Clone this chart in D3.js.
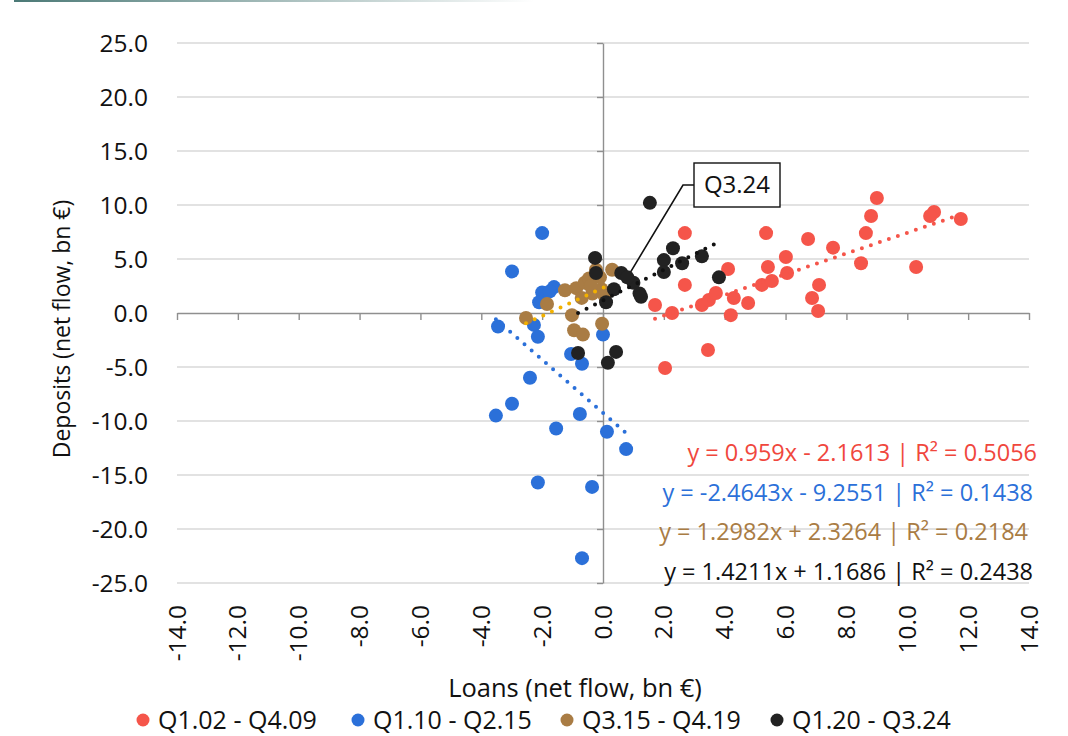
<!DOCTYPE html>
<html>
<head>
<meta charset="utf-8">
<script src="https://cdn.jsdelivr.net/npm/d3@7"></script>
<style>
  body { margin: 0; background: #fff; }
  svg { display: block; font-family: "Open Sans", sans-serif; }
</style>
</head>
<body>
<svg id="chart" width="1068" height="736"></svg>
<script>
// net flows, bn € : [loans, deposits]
const seriesNames = ['Q1.02 - Q4.09', 'Q1.10 - Q2.15', 'Q3.15 - Q4.19', 'Q1.20 - Q3.24'];
const seriesColors = ['#f5554a', '#2b70d9', '#a97c44', '#222222'];
const trendColors = ['#f5554a', '#2b70d9', '#f2b100', '#111111'];

const red = [
  [1.71, 0.74], [2.04, -5.09], [2.27, 0.0], [2.69, 7.4], [2.69, 2.6], [3.25, 0.74],
  [3.48, 1.2], [3.71, 1.85], [4.11, 4.07], [4.2, -0.2], [4.3, 1.39], [4.77, 0.93],
  [3.45, -3.43], [5.36, 7.4], [5.42, 4.26], [5.22, 2.6], [5.55, 2.96], [6.05, 3.7],
  [6.01, 5.19], [6.74, 6.85], [6.87, 1.39], [7.1, 2.6], [7.07, 0.19], [7.56, 6.05],
  [9.0, 10.65], [8.81, 8.98], [8.64, 7.4], [8.48, 4.6], [10.29, 4.26], [10.88, 9.35],
  [10.75, 8.98], [11.76, 8.7]
];
const blue = [
  [-2.0, 7.4], [-2.99, 3.85], [-1.61, 2.4], [-2.0, 1.9], [-2.1, 1.0], [-1.75, 2.0],
  [-3.45, -1.25], [-2.27, -1.1], [-2.14, -2.2], [0.0, -2.0], [-1.05, -3.8], [-0.69, -4.7],
  [-2.4, -6.0], [-2.99, -8.4], [-3.52, -9.5], [-0.76, -9.35], [-1.54, -10.7], [0.13, -11.0],
  [0.76, -12.6], [-2.14, -15.7], [-0.36, -16.1], [-0.69, -22.7]
];
const brown = [
  [-2.53, -0.46], [-1.84, 0.83], [-1.25, 2.1], [-0.88, 2.3], [-0.6, 2.8], [-0.46, 3.2],
  [-0.23, 4.0], [0.3, 4.0], [-0.05, 2.2], [-0.35, 1.8], [-1.02, -0.2], [-0.95, -1.6],
  [-0.66, -2.0], [-0.03, -1.0], [-0.1, 3.3], [-0.7, 1.4], [0.05, 1.6], [-0.4, 2.5]
];
const black = [
  [1.54, 10.2], [-0.26, 5.1], [-0.23, 3.7], [0.6, 3.7], [0.1, 1.0], [0.36, 2.2],
  [1.2, 1.8], [1.25, 1.5], [2.3, 6.0], [2.0, 4.9], [2.0, 3.8], [2.6, 4.6],
  [3.25, 5.25], [3.81, 3.3], [0.43, -3.6], [0.16, -4.6], [-0.82, -3.7], [1.0, 2.8],
  [0.8, 3.3]
];
const series = [red, blue, brown, black];

// linear trend coefficients [slope, intercept] and labels
const trends = [[0.959, -2.1613], [-2.4643, -9.2551], [1.2982, 2.3264], [1.4211, 1.1686]];
const trendLabels = [
  'y = 0.959x - 2.1613 | R² = 0.5056',
  'y = -2.4643x - 9.2551 | R² = 0.1438',
  'y = 1.2982x + 2.3264 | R² = 0.2184',
  'y = 1.4211x + 1.1686 | R² = 0.2438'
];
const labelColors = ['#f0473d', '#2b70d9', '#a97c44', '#111111'];

const xTicks = d3.range(-14, 14.01, 2);
const yTicks = d3.range(-25, 25.01, 5);
const callout = 'Q3.24';

const svg = d3.select('#chart');
const x = d3.scaleLinear().domain([-14, 14]).range([177, 1029]);
const y = d3.scaleLinear().domain([-25, 25]).range([583, 43]);
const fmt = (d) => d3.format('.1f')(d).replace('−', '-');

// teal header rule
const grad = svg.append('defs').append('linearGradient').attr('id', 'hdr');
grad.append('stop').attr('offset', '0%').attr('stop-color', '#4b7976');
grad.append('stop').attr('offset', '100%').attr('stop-color', '#ffffff');
svg.append('rect').attr('x', 14).attr('y', 0).attr('width', 520).attr('height', 2).attr('fill', 'url(#hdr)');

// gridlines
svg.append('g')
  .selectAll('line')
  .data(yTicks.filter((d) => d !== 0))
  .join('line')
  .attr('x1', x(-14)).attr('x2', x(14))
  .attr('y1', (d) => y(d)).attr('y2', (d) => y(d))
  .attr('stroke', '#d9d9d9')
  .attr('stroke-width', 1.3);

// axes through the origin
const xAxis = svg.append('g')
  .attr('transform', `translate(0,${y(0)})`)
  .call(d3.axisBottom(x).tickValues(xTicks).tickSize(7).tickSizeOuter(0).tickFormat(''));
const yAxis = svg.append('g')
  .attr('transform', `translate(${x(0)},0)`)
  .call(d3.axisLeft(y).tickValues(yTicks).tickSize(6).tickSizeOuter(0).tickFormat(''));
[xAxis, yAxis].forEach((g) => {
  g.selectAll('path, line').attr('stroke', '#8f8f8f').attr('stroke-width', 1.4);
});

// tick labels
svg.append('g')
  .selectAll('text')
  .data(yTicks)
  .join('text')
  .attr('x', 148)
  .attr('y', (d) => y(d))
  .attr('dy', '0.35em')
  .attr('text-anchor', 'end')
  .attr('font-size', 24.5)
  .attr('fill', '#111')
  .text(fmt);

svg.append('g')
  .selectAll('text')
  .data(xTicks)
  .join('text')
  .attr('transform', (d) => `translate(${x(d)},605) rotate(-90)`)
  .attr('dy', '0.35em')
  .attr('text-anchor', 'end')
  .attr('font-size', 24.5)
  .attr('fill', '#111')
  .text(fmt);

// axis titles
svg.append('text')
  .attr('x', 575).attr('y', 697)
  .attr('text-anchor', 'middle')
  .attr('font-size', 25.5)
  .attr('fill', '#111')
  .text('Loans (net flow, bn €)');
svg.append('text')
  .attr('transform', 'translate(62,329) rotate(-90)')
  .attr('dy', '0.35em')
  .attr('text-anchor', 'middle')
  .attr('font-size', 23)
  .attr('fill', '#111')
  .text('Deposits (net flow, bn €)');

// callout for latest quarter
const last = black[black.length - 1];
svg.append('polyline')
  .attr('points', `${x(last[0])},${y(last[1])} 683,185 694,185`)
  .attr('fill', 'none')
  .attr('stroke', '#111')
  .attr('stroke-width', 1.6);

// markers
series.forEach((pts, i) => {
  svg.append('g')
    .selectAll('circle')
    .data(pts)
    .join('circle')
    .attr('cx', (d) => x(d[0]))
    .attr('cy', (d) => y(d[1]))
    .attr('r', 7)
    .attr('fill', seriesColors[i]);
});

// dotted trend lines over the data range
series.forEach((pts, i) => {
  const [m, b] = trends[i];
  const [x0, x1] = d3.extent(pts, (d) => d[0]);
  svg.append('line')
    .attr('x1', x(x0)).attr('y1', y(m * x0 + b))
    .attr('x2', x(x1)).attr('y2', y(m * x1 + b))
    .attr('stroke', trendColors[i])
    .attr('stroke-width', 4)
    .attr('stroke-linecap', 'round')
    .attr('stroke-dasharray', '0 9.5');
});

svg.append('rect')
  .attr('x', 694).attr('y', 163)
  .attr('width', 86).attr('height', 44)
  .attr('fill', '#fff')
  .attr('stroke', '#111')
  .attr('stroke-width', 1.4);
svg.append('text')
  .attr('x', 737).attr('y', 185)
  .attr('dy', '0.35em')
  .attr('text-anchor', 'middle')
  .attr('font-size', 24)
  .attr('fill', '#111')
  .text(callout);

// trend equations
svg.append('g')
  .selectAll('text')
  .data(trendLabels)
  .join('text')
  .attr('x', (d, i) => [1037, 1033, 1028, 1033][i])
  .attr('y', (d, i) => 453 + i * 39.5)
  .attr('dy', '0.35em')
  .attr('text-anchor', 'end')
  .attr('font-size', 23.5)
  .attr('fill', (d, i) => labelColors[i])
  .text((d) => d);

// legend
const legend = svg.append('g')
  .selectAll('g')
  .data(seriesNames)
  .join('g')
  .attr('transform', (d, i) => `translate(${[143, 358, 567, 777][i]},720)`);
legend.append('circle').attr('r', 6.5).attr('fill', (d, i) => seriesColors[i]);
legend.append('text')
  .attr('x', 15)
  .attr('dy', '0.35em')
  .attr('font-size', 25)
  .attr('fill', '#111')
  .text((d) => d);
</script>
</body>
</html>
